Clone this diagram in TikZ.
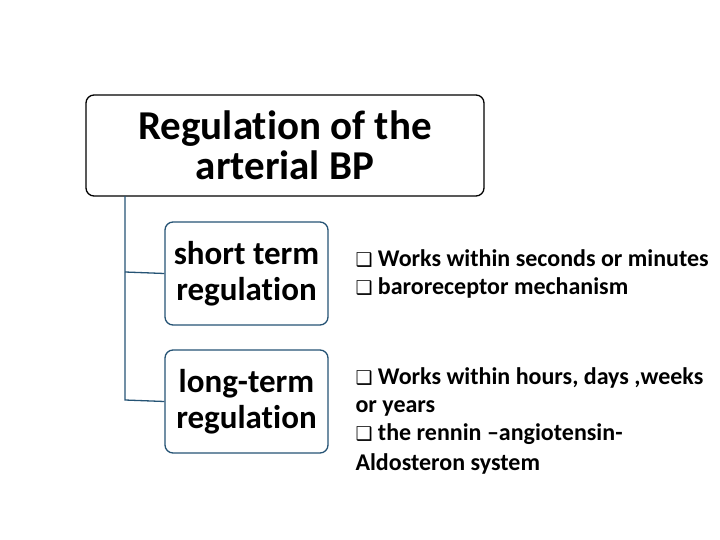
\documentclass[tikz,border=0pt]{standalone}
\usepackage{fontspec}
\setmainfont[Ligatures=NoCommon]{Carlito}
\newfontfamily\symf{DejaVu Sans}
\newcommand{\bx}{{\symf\fontsize{19}{28}\selectfont ❑}}
\begin{document}
\begin{tikzpicture}[x=1pt,y=-1pt,
 topbox/.style={draw=black,line width=1.3pt,rounded corners=8pt,minimum width=398pt,minimum height=101pt,align=center,font=\bfseries\fontsize{41}{40}\selectfont},
 subbox/.style={draw=blue!30!gray!70!cyan!60!black,line width=1.3pt,rounded corners=8pt,minimum width=163pt,minimum height=103pt,align=center,font=\bfseries\fontsize{33}{36}\selectfont},
 conn/.style={draw=blue!30!gray!70!cyan!60!black,line width=1.3pt},
 bul/.style={anchor=north west,align=left,font=\bfseries\fontsize{24}{28}\selectfont}]
\useasboundingbox (0,0) rectangle (720,540);
\node[topbox] (top) at (285,145.5) {Regulation of the\\arterial BP};
\node[subbox] (s) at (246.5,273.5) {short term\\regulation};
\node[subbox] (l) at (246.5,401.5) {long-term\\regulation};
\coordinate (c0) at (125,196);
\draw[conn] (c0) -- (125,400) -- (l.west);
\draw[conn] (125,272) -- (s.west);
\node[bul] (t1) at (352,246) {\bx{} Works within seconds or minutes\\\bx{} baroreceptor mechanism};
\node[bul] (t2) at (352,364) {\bx{} Works within hours, days ,weeks\\or years\\\bx{} the rennin –angiotensin-\\[2pt]Aldosteron system};
\end{tikzpicture}
\end{document}
